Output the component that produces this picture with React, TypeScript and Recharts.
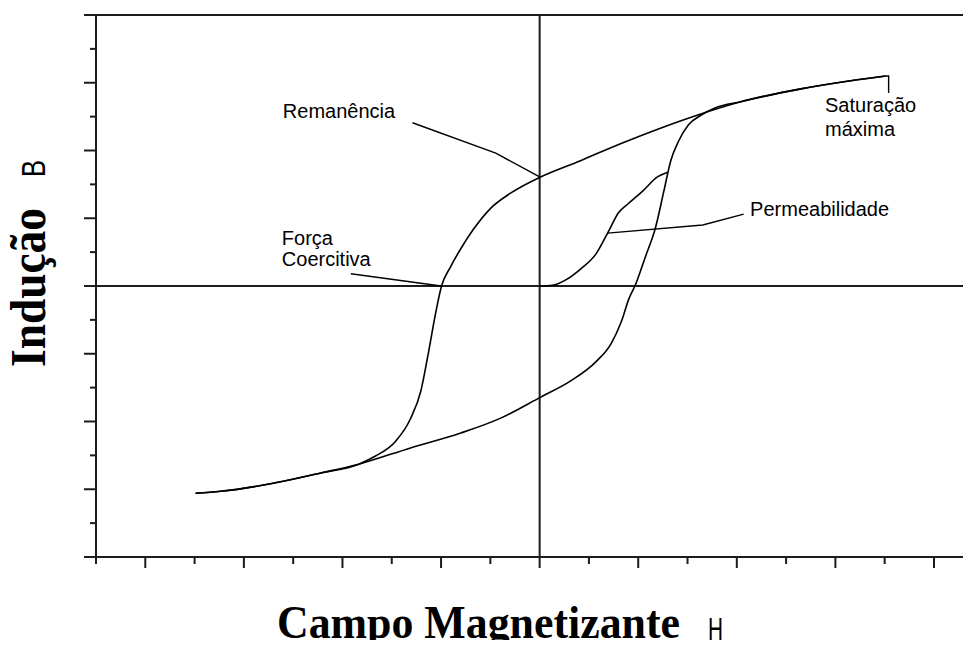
import { LineChart, Line, XAxis, YAxis, ReferenceLine, ReferenceDot } from 'recharts'

// H ticks (field) and B ticks (induction)
const H_TICKS = [-9, -8, -7, -6, -5, -4, -3, -2, -1, 0, 1, 2, 3, 4, 5, 6, 7, 8]
const B_TICKS = [-4, -3.5, -3, -2.5, -2, -1.5, -1, -0.5, 0, 0.5, 1, 1.5, 2, 2.5, 3, 3.5, 4]

// descending branch (read left to right)
const upperH = [-6.98, -6.47, -5.46, -4.44, -3.67, -3.33, -2.92, -2.62, -2.41, -2.25, -2.11, -1.99, -1.81, -1.6, -1.34, -0.99, -0.59, 0.02, 0.83, 1.64, 2.45, 3.27, 4.08, 5.3, 6.31, 7.02]
const upperB = [-3.06, -3.03, -2.92, -2.76, -2.63, -2.51, -2.29, -1.96, -1.55, -0.96, -0.4, 0, 0.28, 0.55, 0.84, 1.15, 1.37, 1.61, 1.85, 2.1, 2.33, 2.54, 2.72, 2.91, 3.03, 3.1]

// ascending branch
const lowerH = [-6.98, -6.47, -5.46, -4.44, -3.67, -2.62, -1.6, -0.79, 0.02, 0.63, 1.14, 1.45, 1.66, 1.81, 1.95, 2.15, 2.35, 2.52, 2.66, 2.82, 3.02, 3.27, 3.57, 4.08, 5.3, 6.31, 7.02]
const lowerB = [-3.06, -3.03, -2.92, -2.76, -2.63, -2.39, -2.17, -1.95, -1.64, -1.4, -1.12, -0.85, -0.52, -0.19, 0.03, 0.44, 0.86, 1.4, 1.85, 2.14, 2.38, 2.52, 2.63, 2.72, 2.91, 3.03, 3.1]

// first magnetization curve
const initialH = [0, 0.26, 0.53, 0.83, 1.14, 1.4, 1.6, 1.79, 2.09, 2.39, 2.6]
const initialB = [0, 0.01, 0.09, 0.25, 0.47, 0.81, 1.08, 1.21, 1.4, 1.61, 1.68]

// leader lines for the labels
const remanenciaLeader = [[-2.58, 2.41], [-0.89, 1.96], [0, 1.61]]
const coercivaLeader = [[-3.83, 0.18], [-2, 0]]
const permeabLeader = [[1.38, 0.78], [3.31, 0.9], [4.14, 1.06]]
const saturacaoLeader = [[7.02, 3.1], [7.08, 3.1], [7.08, 2.85]]

const labelText = ['Remanência', 'Força', 'Coercitiva', 'Permeabilidade', 'Saturação', 'máxima']
const labelH = [-5.21, -5.23, -5.23, 4.27, 5.79, 5.79]
const labelB = [2.48, 0.6, 0.29, 1.03, 2.57, 2.21]

const zip = (hs: number[], bs: number[]) => hs.map((h, i) => ({ h, b: bs[i] }))
const pairs = (p: number[][]) => p.map(([h, b]) => ({ h, b }))

const INK = '#000'
const AXIS = '#1c1c1c'
const SANS = '"Liberation Sans", Arial, sans-serif'
const SERIF = '"Liberation Serif", "Times New Roman", serif'

function HTick({ x, y, payload }: any) {
  const long = payload.value % 2 === 0
  return <line x1={x} x2={x} y1={y} y2={y + (long ? 11 : 7)} stroke={AXIS} strokeWidth={2} />
}

function BTick({ x, y, payload }: any) {
  const long = Number.isInteger(payload.value)
  return <line x1={x - (long ? 12 : 6)} x2={x} y1={y} y2={y} stroke={AXIS} strokeWidth={2} />
}

function HTitle() {
  return (
    <g>
      <text x={277} y={638} fontFamily={SERIF} fontWeight="bold" fontSize={47} textLength={403} lengthAdjust="spacingAndGlyphs" fill={INK}>
        Campo Magnetizante
      </text>
      <text x={708} y={640} fontFamily={SANS} fontSize={32} textLength={15} lengthAdjust="spacingAndGlyphs" fill={INK}>
        H
      </text>
    </g>
  )
}

function BTitle() {
  return (
    <g>
      <text x={45} y={367} transform="rotate(-90 45 367)" fontFamily={SERIF} fontWeight="bold" fontSize={50} textLength={159} lengthAdjust="spacingAndGlyphs" fill={INK}>
        Indução
      </text>
      <text x={45} y={177} transform="rotate(-90 45 177)" fontFamily={SANS} fontSize={34} textLength={17} lengthAdjust="spacingAndGlyphs" fill={INK}>
        B
      </text>
    </g>
  )
}

const note = (text: string) => (props: any) => {
  const vb = props.viewBox || {}
  return (
    <text x={vb.x} y={vb.y} fontFamily={SANS} fontSize={20} fill={INK}>
      {text}
    </text>
  )
}

export default function App() {
  const curve = { stroke: INK, strokeWidth: 1.6, dot: false, isAnimationActive: false, type: 'monotone' as const }
  const leader = { stroke: INK, strokeWidth: 1.4, dot: false, isAnimationActive: false, type: 'linear' as const }
  return (
    <div style={{ margin: -8, width: 971, height: 648, background: '#fff' }}>
      <LineChart width={971} height={648} margin={{ top: 15, right: 0, bottom: 61, left: 76 }}>
        <XAxis
          type="number"
          dataKey="h"
          domain={[-9, 8.751]}
          ticks={H_TICKS}
          interval={0}
          tickSize={0}
          tickMargin={0}
          tickLine={false}
          tick={<HTick />}
          axisLine={{ stroke: AXIS, strokeWidth: 2 }}
          height={30}
          allowDataOverflow
          label={<HTitle />}
        />
        <YAxis
          type="number"
          dataKey="b"
          domain={[-4, 4]}
          ticks={B_TICKS}
          interval={0}
          tickSize={0}
          tickMargin={0}
          tickLine={false}
          tick={<BTick />}
          axisLine={{ stroke: AXIS, strokeWidth: 2 }}
          width={20}
          allowDataOverflow
          label={<BTitle />}
        />
        <ReferenceLine y={4} stroke={AXIS} strokeWidth={2} />
        <ReferenceLine y={0} stroke={AXIS} strokeWidth={2} />
        <ReferenceLine x={0} stroke={AXIS} strokeWidth={2} />

        <Line data={zip(lowerH, lowerB)} dataKey="b" {...curve} />
        <Line data={zip(upperH, upperB)} dataKey="b" {...curve} />
        <Line data={zip(initialH, initialB)} dataKey="b" {...curve} />

        <Line data={pairs(remanenciaLeader)} dataKey="b" {...leader} />
        <Line data={pairs(coercivaLeader)} dataKey="b" {...leader} />
        <Line data={pairs(permeabLeader)} dataKey="b" {...leader} />
        <Line data={pairs(saturacaoLeader)} dataKey="b" {...leader} />

        {labelText.map((t, i) => (
          <ReferenceDot key={t} x={labelH[i]} y={labelB[i]} r={0} fill="none" stroke="none" label={note(t)} />
        ))}
      </LineChart>
    </div>
  )
}
